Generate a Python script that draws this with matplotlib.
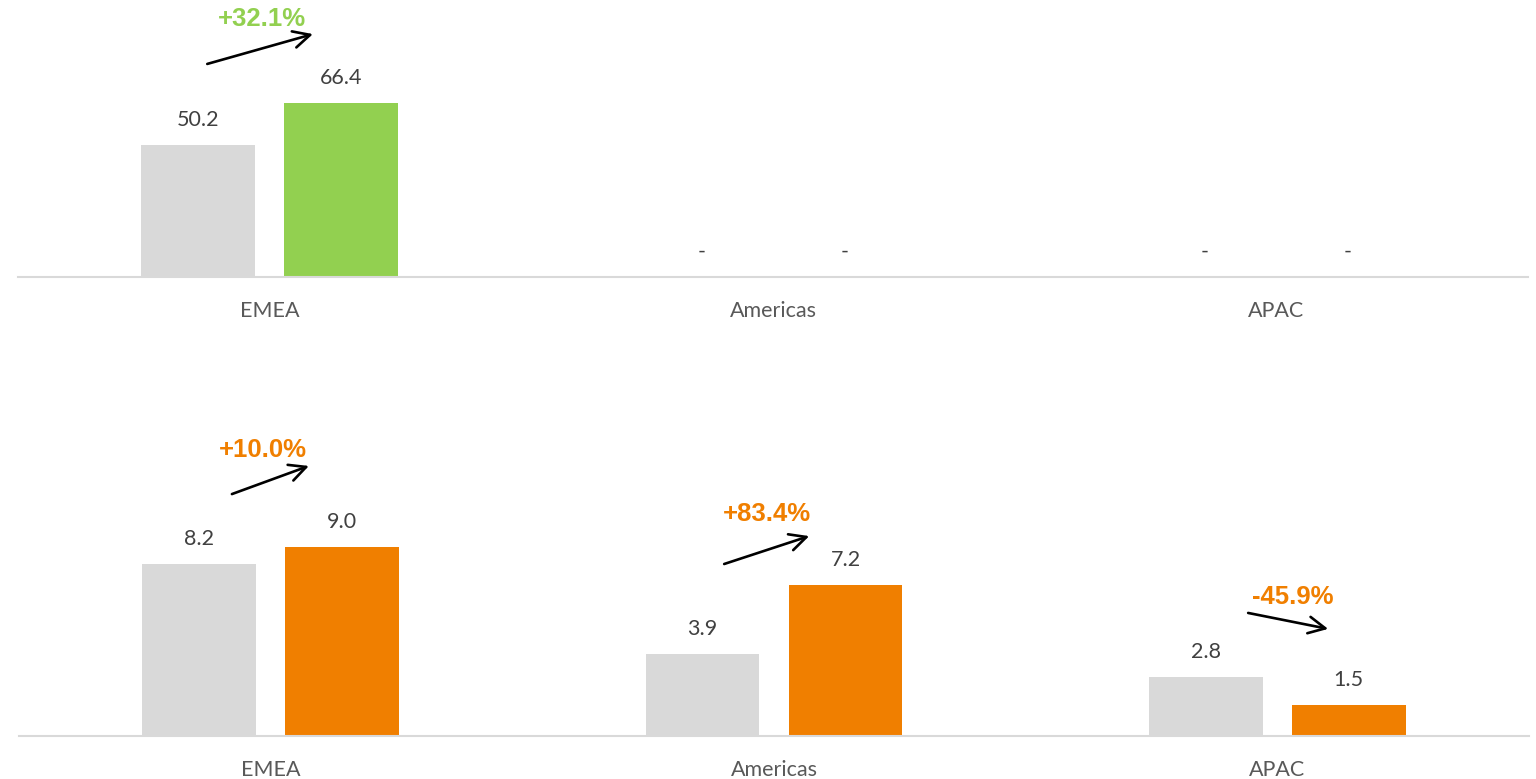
import numpy as np
import matplotlib.pyplot as plt

# data
regions = ['EMEA', 'Americas', 'APAC']
top_prev = [50.2, 0.0, 0.0]
top_curr = [66.4, 0.0, 0.0]
top_growth = ['+32.1%', None, None]
bot_prev = [8.2, 3.9, 2.8]
bot_curr = [9.0, 7.2, 1.5]
bot_growth = ['+10.0%', '+83.4%', '-45.9%']

GREY = '#D9D9D9'
GREEN = '#92D050'
ORANGE = '#F07F00'
LABEL_FONT = 'Lato'
PCT_FONT = 'Liberation Sans'

# arrow placement per region: (x0 offset, y0, x1 offset, y1, text x offset, text y)
top_arrows = [(-0.124, 81.3, 0.086, 92.7, -0.015, 98.5), None, None]
bot_arrows = [(-0.077, 11.52, 0.076, 12.86, -0.015, 13.62),
              (-0.099, 8.19, 0.070, 9.52, -0.014, 10.57),
              (-0.058, 5.86, 0.101, 5.10, 0.031, 6.62)]


def draw_panel(ax, prev, curr, growth, arrows, color, ymax):
    x = np.arange(len(regions))
    width = 0.226
    off = 0.142
    b1 = ax.bar(x - off, prev, width, color=GREY)
    b2 = ax.bar(x + off, curr, width, color=color)
    for bars, vals in [(b1, prev), (b2, curr)]:
        for rect, v in zip(bars, vals):
            txt = '-' if v == 0 else f'{v:.1f}'
            ax.annotate(txt, (rect.get_x() + rect.get_width() / 2, v),
                        xytext=(0, 18), textcoords='offset points',
                        ha='center', va='center', fontsize=15.5,
                        color='#404040', family=LABEL_FONT)
    for i, (g, a) in enumerate(zip(growth, arrows)):
        if g is None:
            continue
        x0, y0, x1, y1, tx, ty = a
        ax.annotate('', xy=(i + x1, y1), xytext=(i + x0, y0),
                    arrowprops=dict(arrowstyle='->', color='black', lw=1.9,
                                    mutation_scale=30, shrinkA=0, shrinkB=0))
        ax.text(i + tx, ty, g, ha='center', va='center', fontsize=18.5,
                fontweight='bold', color=color, family=PCT_FONT)

    ax.set_xlim(-0.5, len(regions) - 0.5)
    ax.set_ylim(0, ymax)
    ax.set_xticks(x)
    ax.set_xticklabels(regions, fontsize=15.5, color='#595959', family=LABEL_FONT)
    ax.tick_params(axis='x', length=0, pad=17)
    ax.set_yticks([])
    for s in ['top', 'left', 'right']:
        ax.spines[s].set_visible(False)
    ax.spines['bottom'].set_color(GREY)
    ax.spines['bottom'].set_linewidth(1.5)


fig = plt.figure(figsize=(15.36, 7.79), dpi=100)
ax_top = fig.add_axes([18 / 1536, (779 - 277) / 779, 1510 / 1536, 277 / 779])
ax_bot = fig.add_axes([19 / 1536, (779 - 736) / 779, 1510 / 1536, 336 / 779])

draw_panel(ax_top, top_prev, top_curr, top_growth, top_arrows, GREEN, 105.7)
draw_panel(ax_bot, bot_prev, bot_curr, bot_growth, bot_arrows, ORANGE, 16.0)

fig.savefig('out.png', dpi=100)
